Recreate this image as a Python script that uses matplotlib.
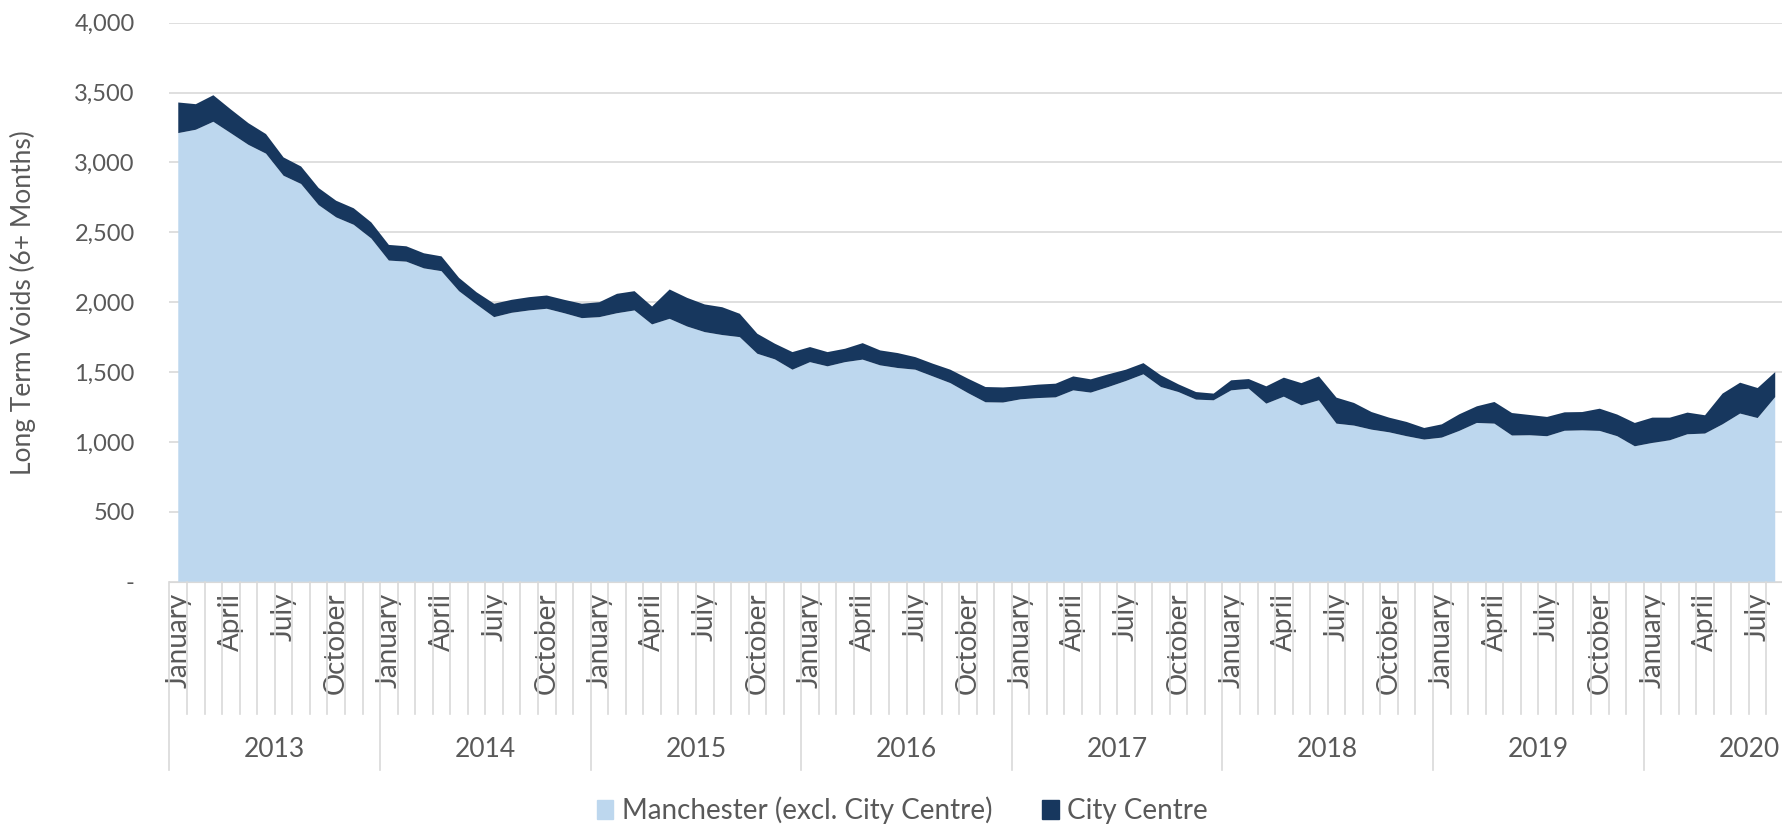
import numpy as np
import matplotlib
matplotlib.use("Agg")
import matplotlib.pyplot as plt
from matplotlib.patches import Patch

plt.rcParams['font.family'] = ['Lato', 'DejaVu Sans']

# monthly long term voids, Jan 2013 - Aug 2020
years = ["2013", "2014", "2015", "2016", "2017", "2018", "2019", "2020"]
month_names = ["January", "February", "March", "April", "May", "June",
               "July", "August", "September", "October", "November", "December"]
n_months = 92

manchester = [3210, 3234, 3291, 3209, 3126, 3063, 2905, 2846, 2695, 2607, 2554, 2456,
              2298, 2290, 2242, 2222, 2079, 1984, 1893, 1924, 1941, 1953, 1921, 1886,
              1893, 1921, 1941, 1841, 1881, 1826, 1786, 1765, 1750, 1631, 1591, 1517,
              1571, 1541, 1571, 1589, 1548, 1529, 1517, 1469, 1421, 1350, 1284, 1282,
              1305, 1314, 1319, 1369, 1353, 1393, 1436, 1484, 1393, 1357, 1303, 1298,
              1369, 1381, 1274, 1324, 1262, 1298, 1131, 1117, 1088, 1069, 1041, 1017,
              1031, 1079, 1136, 1131, 1046, 1048, 1041, 1080, 1083, 1079, 1041, 969,
              993, 1012, 1055, 1060, 1126, 1203, 1171, 1321]
city_centre = [219, 183, 190, 170, 155, 140, 131, 125, 122, 119, 118, 115,
               112, 110, 108, 106, 95, 87, 96, 93, 95, 95, 96, 103,
               107, 139, 138, 128, 210, 205, 198, 199, 167, 143, 112, 126,
               108, 102, 96, 118, 107, 107, 90, 91, 96, 103, 109, 108,
               93, 96, 98, 100, 95, 91, 81, 80, 83, 55, 54, 48,
               72, 69, 124, 136, 159, 171, 186, 162, 126, 105, 102, 83,
               95, 119, 119, 155, 161, 145, 138, 132, 131, 159, 155, 167,
               181, 162, 155, 131, 220, 221, 215, 179]

light = "#BDD7EE"
dark = "#17375E"
grid = "#D9D9D9"
txt = "#595959"

x = np.arange(n_months)

fig = plt.figure(figsize=(17.83, 8.25), dpi=100)
ax = fig.add_axes([169.5 / 1783, 243.3 / 825, 1614.5 / 1783, 559 / 825])

ax.stackplot(x, manchester, city_centre, colors=[light, dark], linewidth=0)

ax.set_xlim(-0.5, n_months - 0.5)
ax.set_ylim(0, 4000)
ax.set_yticks(np.arange(0, 4001, 500))
ax.set_yticklabels(["-"] + [f"{v:,}" for v in range(500, 4001, 500)],
                   color=txt, fontsize=17)
ax.yaxis.grid(True, color=grid, linewidth=1.2)
ax.set_axisbelow(True)
ax.tick_params(axis="y", length=0, pad=25)
ax.set_ylabel("Long Term Voids (6+ Months)", color=txt, fontsize=19)
ax.yaxis.set_label_coords(-0.0825, 0.5)

for s in ["left", "right", "top"]:
    ax.spines[s].set_visible(False)
ax.spines["bottom"].set_color(grid)

# month labels every quarter
labels = [month_names[i % 12] if i % 3 == 0 else "" for i in range(n_months)]
ax.set_xticks(x)
ax.set_xticklabels(labels, rotation=90, color=txt, fontsize=20)
ax.tick_params(axis="x", length=0, pad=8)

# category separators
trans = ax.get_xaxis_transform()
for k in range(n_months + 1):
    low = -0.337 if k % 12 == 0 else -0.2367
    ax.plot([k - 0.5, k - 0.5], [0, low], color=grid, linewidth=1.2,
            transform=trans, clip_on=False)

for j, yr in enumerate(years):
    ax.text(j * 12 + 5.5, -0.3, yr, transform=trans, ha="center", va="center",
            color=txt, fontsize=19)

handles = [Patch(color=light, label="Manchester (excl. City Centre)"),
           Patch(color=dark, label="City Centre")]
fig.legend(handles=handles, loc="center", bbox_to_anchor=(0.506, 0.018), ncol=2,
           frameon=False, fontsize=20, handlelength=0.6, handleheight=0.7,
           handletextpad=0.3, columnspacing=1.8, labelcolor=txt)

fig.savefig("out.png", dpi=100)
